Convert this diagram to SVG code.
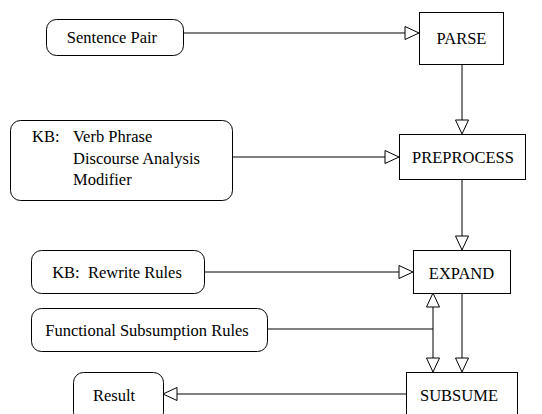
<svg xmlns="http://www.w3.org/2000/svg" width="542" height="414" viewBox="0 0 542 414">
<style>
  .box { fill: #fff; stroke: #000; stroke-width: 1; }
  .t { font-family: "Liberation Serif", "DejaVu Serif", "Times New Roman", serif; font-size: 16.5px; fill: #000; }
  .c { text-anchor: middle; }
  .ln { stroke: #000; stroke-width: 1; fill: none; }
  .ah { fill: #fff; stroke: #000; stroke-width: 1; }
</style>
<rect width="542" height="414" fill="#fff"/>
<g id="connectors">
  <line class="ln" x1="183" y1="33" x2="406" y2="33"/>
  <polygon class="ah" points="419,33 405,26.5 405,39.5"/>
  <line class="ln" x1="462" y1="64" x2="462" y2="121"/>
  <polygon class="ah" points="462,134 455.5,120 468.5,120"/>
  <line class="ln" x1="232" y1="157" x2="386" y2="157"/>
  <polygon class="ah" points="399,157 385,150.5 385,163.5"/>
  <line class="ln" x1="462" y1="180" x2="462" y2="237"/>
  <polygon class="ah" points="462,250 455.5,236 468.5,236"/>
  <line class="ln" x1="204" y1="272" x2="400" y2="272"/>
  <polygon class="ah" points="413,272 399,265.5 399,278.5"/>
  <line class="ln" x1="267" y1="329" x2="433" y2="329"/>
  <line class="ln" x1="433" y1="306" x2="433" y2="359"/>
  <polygon class="ah" points="433,293 426.5,307 439.5,307"/>
  <polygon class="ah" points="433,372 426.5,358 439.5,358"/>
  <line class="ln" x1="462" y1="293" x2="462" y2="359"/>
  <polygon class="ah" points="462,372 455.5,358 468.5,358"/>
  <line class="ln" x1="406" y1="394" x2="176" y2="394"/>
  <polygon class="ah" points="163,394 177,387.5 177,400.5"/>
</g>
<g id="sentence-pair">
  <rect class="box" x="46.5" y="19.5" width="137" height="36" rx="10"/>
  <text class="t c" x="112" y="43">Sentence Pair</text>
</g>
<g id="parse">
  <rect class="box" x="419.5" y="12.5" width="84" height="52"/>
  <text class="t c" x="461.5" y="43.5">PARSE</text>
</g>
<g id="kb-verb">
  <rect class="box" x="10.5" y="120.5" width="222" height="80" rx="10"/>
  <text class="t" x="32" y="142">KB:</text>
  <text class="t" x="73" y="142">Verb Phrase</text>
  <text class="t" x="73" y="164">Discourse Analysis</text>
  <text class="t" x="73" y="185">Modifier</text>
</g>
<g id="preprocess">
  <rect class="box" x="399.5" y="134.5" width="126" height="45"/>
  <text class="t c" x="463" y="163">PREPROCESS</text>
</g>
<g id="kb-rewrite">
  <rect class="box" x="31.5" y="250.5" width="173" height="43" rx="10"/>
  <text class="t c" x="117" y="278">KB:&#160; Rewrite Rules</text>
</g>
<g id="expand">
  <rect class="box" x="413.5" y="250.5" width="97" height="43"/>
  <text class="t c" x="461.5" y="278.5">EXPAND</text>
</g>
<g id="functional">
  <rect class="box" x="31.5" y="308.5" width="236" height="43" rx="10"/>
  <text class="t c" x="147" y="336">Functional Subsumption Rules</text>
</g>
<g id="subsume">
  <rect class="box" x="406.5" y="372.5" width="111" height="50"/>
  <text class="t c" x="459" y="400.5">SUBSUME</text>
</g>
<g id="result">
  <rect class="box" x="73.5" y="372.5" width="90" height="50" rx="10"/>
  <text class="t c" x="114" y="400.5">Result</text>
</g>
</svg>
